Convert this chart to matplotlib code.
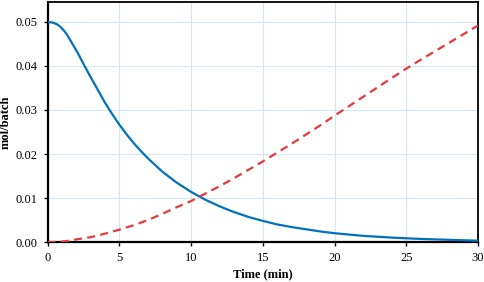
import matplotlib
matplotlib.use("Agg")
import matplotlib.pyplot as plt

t_blue = [0, 0.3, 0.5, 0.7, 0.9, 1.1, 1.3, 1.6, 2.1, 2.6, 3.0, 3.5, 4, 4.5, 5, 5.5, 6, 6.5, 7, 8, 9, 10,
          11, 12, 13, 14, 15, 16, 17, 18, 19, 20, 22, 24, 26, 28, 30]
blue = [0.0500, 0.0499, 0.0497, 0.0494, 0.0489, 0.0482, 0.0474, 0.0458, 0.0430, 0.0399, 0.0375, 0.0346,
        0.0317, 0.0291, 0.0267, 0.0245, 0.0225, 0.0207, 0.0190, 0.0160, 0.0135, 0.0114, 0.0096, 0.0081,
        0.0068, 0.0057, 0.0048, 0.0040, 0.0034, 0.0029, 0.0024, 0.0020, 0.0014, 0.0010, 0.0007, 0.0005,
        0.0003]

t_red = [0, 0.5, 1, 1.5, 2, 3, 4, 5, 6, 7, 8, 9, 10, 11, 12, 13, 14, 15, 16, 17, 18, 19, 20, 22, 24, 25,
         26, 28, 30]
red = [0.0, 0.0, 0.0001, 0.0003, 0.0006, 0.0011, 0.0019, 0.0028, 0.0038, 0.0050, 0.0064, 0.0079, 0.0093,
       0.0110, 0.0127, 0.0145, 0.0164, 0.0183, 0.0203, 0.0223, 0.0244, 0.0265, 0.0287, 0.0330, 0.0373,
       0.0394, 0.0414, 0.0453, 0.0492]

xticks = [0, 5, 10, 15, 20, 25, 30]
yticks = [0.00, 0.01, 0.02, 0.03, 0.04, 0.05]
ytick_labels = ["0.00", "0.01", "0.02", "0.03", "0.04", "0.05"]

plt.rcParams['font.family'] = ['Liberation Serif', 'DejaVu Serif']
fig = plt.figure(figsize=(4.84, 2.82), dpi=100)
ax = fig.add_axes([0.0982, 0.1418, 0.8894, 0.852])

ax.plot(t_blue, blue, color='#0072BD', lw=1.6, zorder=3, solid_joinstyle='round')
ax.plot(t_red, red, color='#E8383B', lw=1.6, ls=(0, (3.6, 2.4)), zorder=3)

ax.set_xlim(0, 30)
ax.set_ylim(0, 0.0546)
ax.set_xticks(xticks)
ax.set_xticklabels([str(v) for v in xticks])
ax.set_yticks(yticks)
ax.set_yticklabels(ytick_labels)
ax.grid(True, color='#D5E5F3', lw=0.8, zorder=0)
ax.set_axisbelow(True)
ax.tick_params(labelsize=9, length=3, width=1, direction='out', colors='black', pad=4)
for s in ax.spines.values():
    s.set_linewidth(1.3)
    s.set_color('black')
ax.spines['left'].set_linewidth(1.6)
ax.spines['bottom'].set_linewidth(1.6)

ax.set_xlabel('Time (min)', fontsize=9, fontweight='bold', labelpad=3)
ax.set_ylabel('mol/batch', fontsize=9, fontweight='bold', labelpad=3)

fig.savefig('out.png', dpi=100)
